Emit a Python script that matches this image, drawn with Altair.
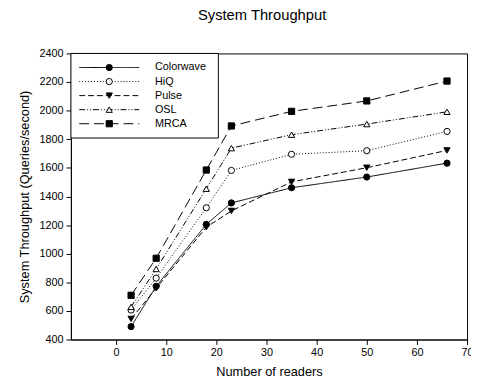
import altair as alt
import pandas as pd

readers = [3, 8, 18, 23, 35, 50, 66]
series_names = ["Colorwave", "HiQ", "Pulse", "OSL", "MRCA"]
colorwave = [490, 772, 1205, 1355, 1461, 1536, 1633]
hiq = [606, 829, 1321, 1582, 1695, 1720, 1855]
pulse = [544, 758, 1185, 1299, 1502, 1601, 1722]
osl = [628, 893, 1454, 1738, 1832, 1906, 1992]
mrca = [709, 968, 1585, 1893, 1995, 2068, 2207]

x_ticks = [0, 10, 20, 30, 40, 50, 60, 70]
y_ticks = [400, 600, 800, 1000, 1200, 1400, 1600, 1800, 2000, 2200, 2400]

dashes = [[1, 0], [1, 2], [6, 3], [6, 2, 1, 2, 1, 2], [10, 5]]
shapes = ["circle", "circle", "triangle-down", "triangle-up", "square"]
fills = ["black", "white", "black", "white", "black"]
sizes = [40, 40, 45, 45, 38]

values = [colorwave, hiq, pulse, osl, mrca]
rows = []
for name, vals in zip(series_names, values):
    for r, v in zip(readers, vals):
        rows.append({"series": name, "readers": r, "value": v})
df = pd.DataFrame(rows)
df_leg = pd.DataFrame({"series": series_names})

FONT = "Liberation Sans"

dash_enc = alt.StrokeDash("series:N", scale=alt.Scale(domain=series_names, range=dashes), legend=None)
shape_enc = alt.Shape("series:N", scale=alt.Scale(domain=series_names, range=shapes), legend=None)
fill_enc = alt.Fill("series:N", scale=alt.Scale(domain=series_names, range=fills), legend=None)
size_enc = alt.Size("series:N", scale=alt.Scale(domain=series_names, range=sizes), legend=None)

x_enc = alt.X("readers:Q", scale=alt.Scale(domain=[-9, 70], nice=False, zero=False),
              axis=alt.Axis(values=x_ticks, title="Number of readers", grid=False, format="d",
                            labelFlush=False, labelOverlap=False,
                            tickSize=5, labelPadding=2, titlePadding=9))
y_enc = alt.Y("value:Q", scale=alt.Scale(domain=[400, 2400], nice=False, zero=False),
              axis=alt.Axis(values=y_ticks, title="System Throughput (Queries/second)", grid=False,
                            format="d", labelFlush=False, labelOverlap=False,
                            tickSize=5, labelPadding=3, titlePadding=8))

lines = alt.Chart(df).mark_line(strokeWidth=1, color="black").encode(
    x=x_enc, y=y_enc, strokeDash=dash_enc, detail="series:N"
)
points = alt.Chart(df).mark_point(filled=True, opacity=1, stroke="black", strokeWidth=1).encode(
    x=x_enc, y=y_enc, shape=shape_enc, fill=fill_enc, size=size_enc
)

box = alt.Chart(pd.DataFrame({"k": [0]})).mark_rect(fill="white", stroke="black", strokeWidth=1).encode(
    x=alt.value(0), x2=alt.value(150), y=alt.value(0), y2=alt.value(86)
)

layers = [lines, points, box]
for i, name in enumerate(series_names):
    yi = 14.3 + i * 14.3
    sub = alt.Chart(df_leg).transform_filter(alt.datum.series == name)
    layers.append(sub.mark_rule(strokeWidth=1, color="black").encode(
        x=alt.value(8.5), x2=alt.value(69.5), y=alt.value(yi), strokeDash=dash_enc))
    layers.append(sub.mark_point(filled=True, opacity=1, stroke="black", strokeWidth=1).encode(
        x=alt.value(39), y=alt.value(yi), shape=shape_enc, fill=fill_enc, size=size_enc))
    layers.append(sub.mark_text(align="left", baseline="middle", fontSize=11, font=FONT, color="black").encode(
        x=alt.value(85.5), y=alt.value(yi), text="series:N"))

chart = alt.layer(*layers).properties(
    width=403, height=291,
    title=alt.TitleParams("System Throughput", fontSize=15, font=FONT, fontWeight="normal",
                          color="black", offset=25, dx=-7),
    autosize=alt.AutoSizeParams(type="none"),
    padding={"left": 64, "top": 43, "right": 4, "bottom": 40},
).configure_view(stroke="black", strokeWidth=1).configure_axis(
    domainColor="black", tickColor="black", labelColor="black", titleColor="black",
    labelFont=FONT, titleFont=FONT, labelFontSize=11, titleFontSize=13, titleFontWeight="normal",
    domainWidth=1, tickWidth=1, labelOverlap=False, labelFlush=False
)

chart.save("out.html", embed_options={"renderer": "svg", "actions": False})
